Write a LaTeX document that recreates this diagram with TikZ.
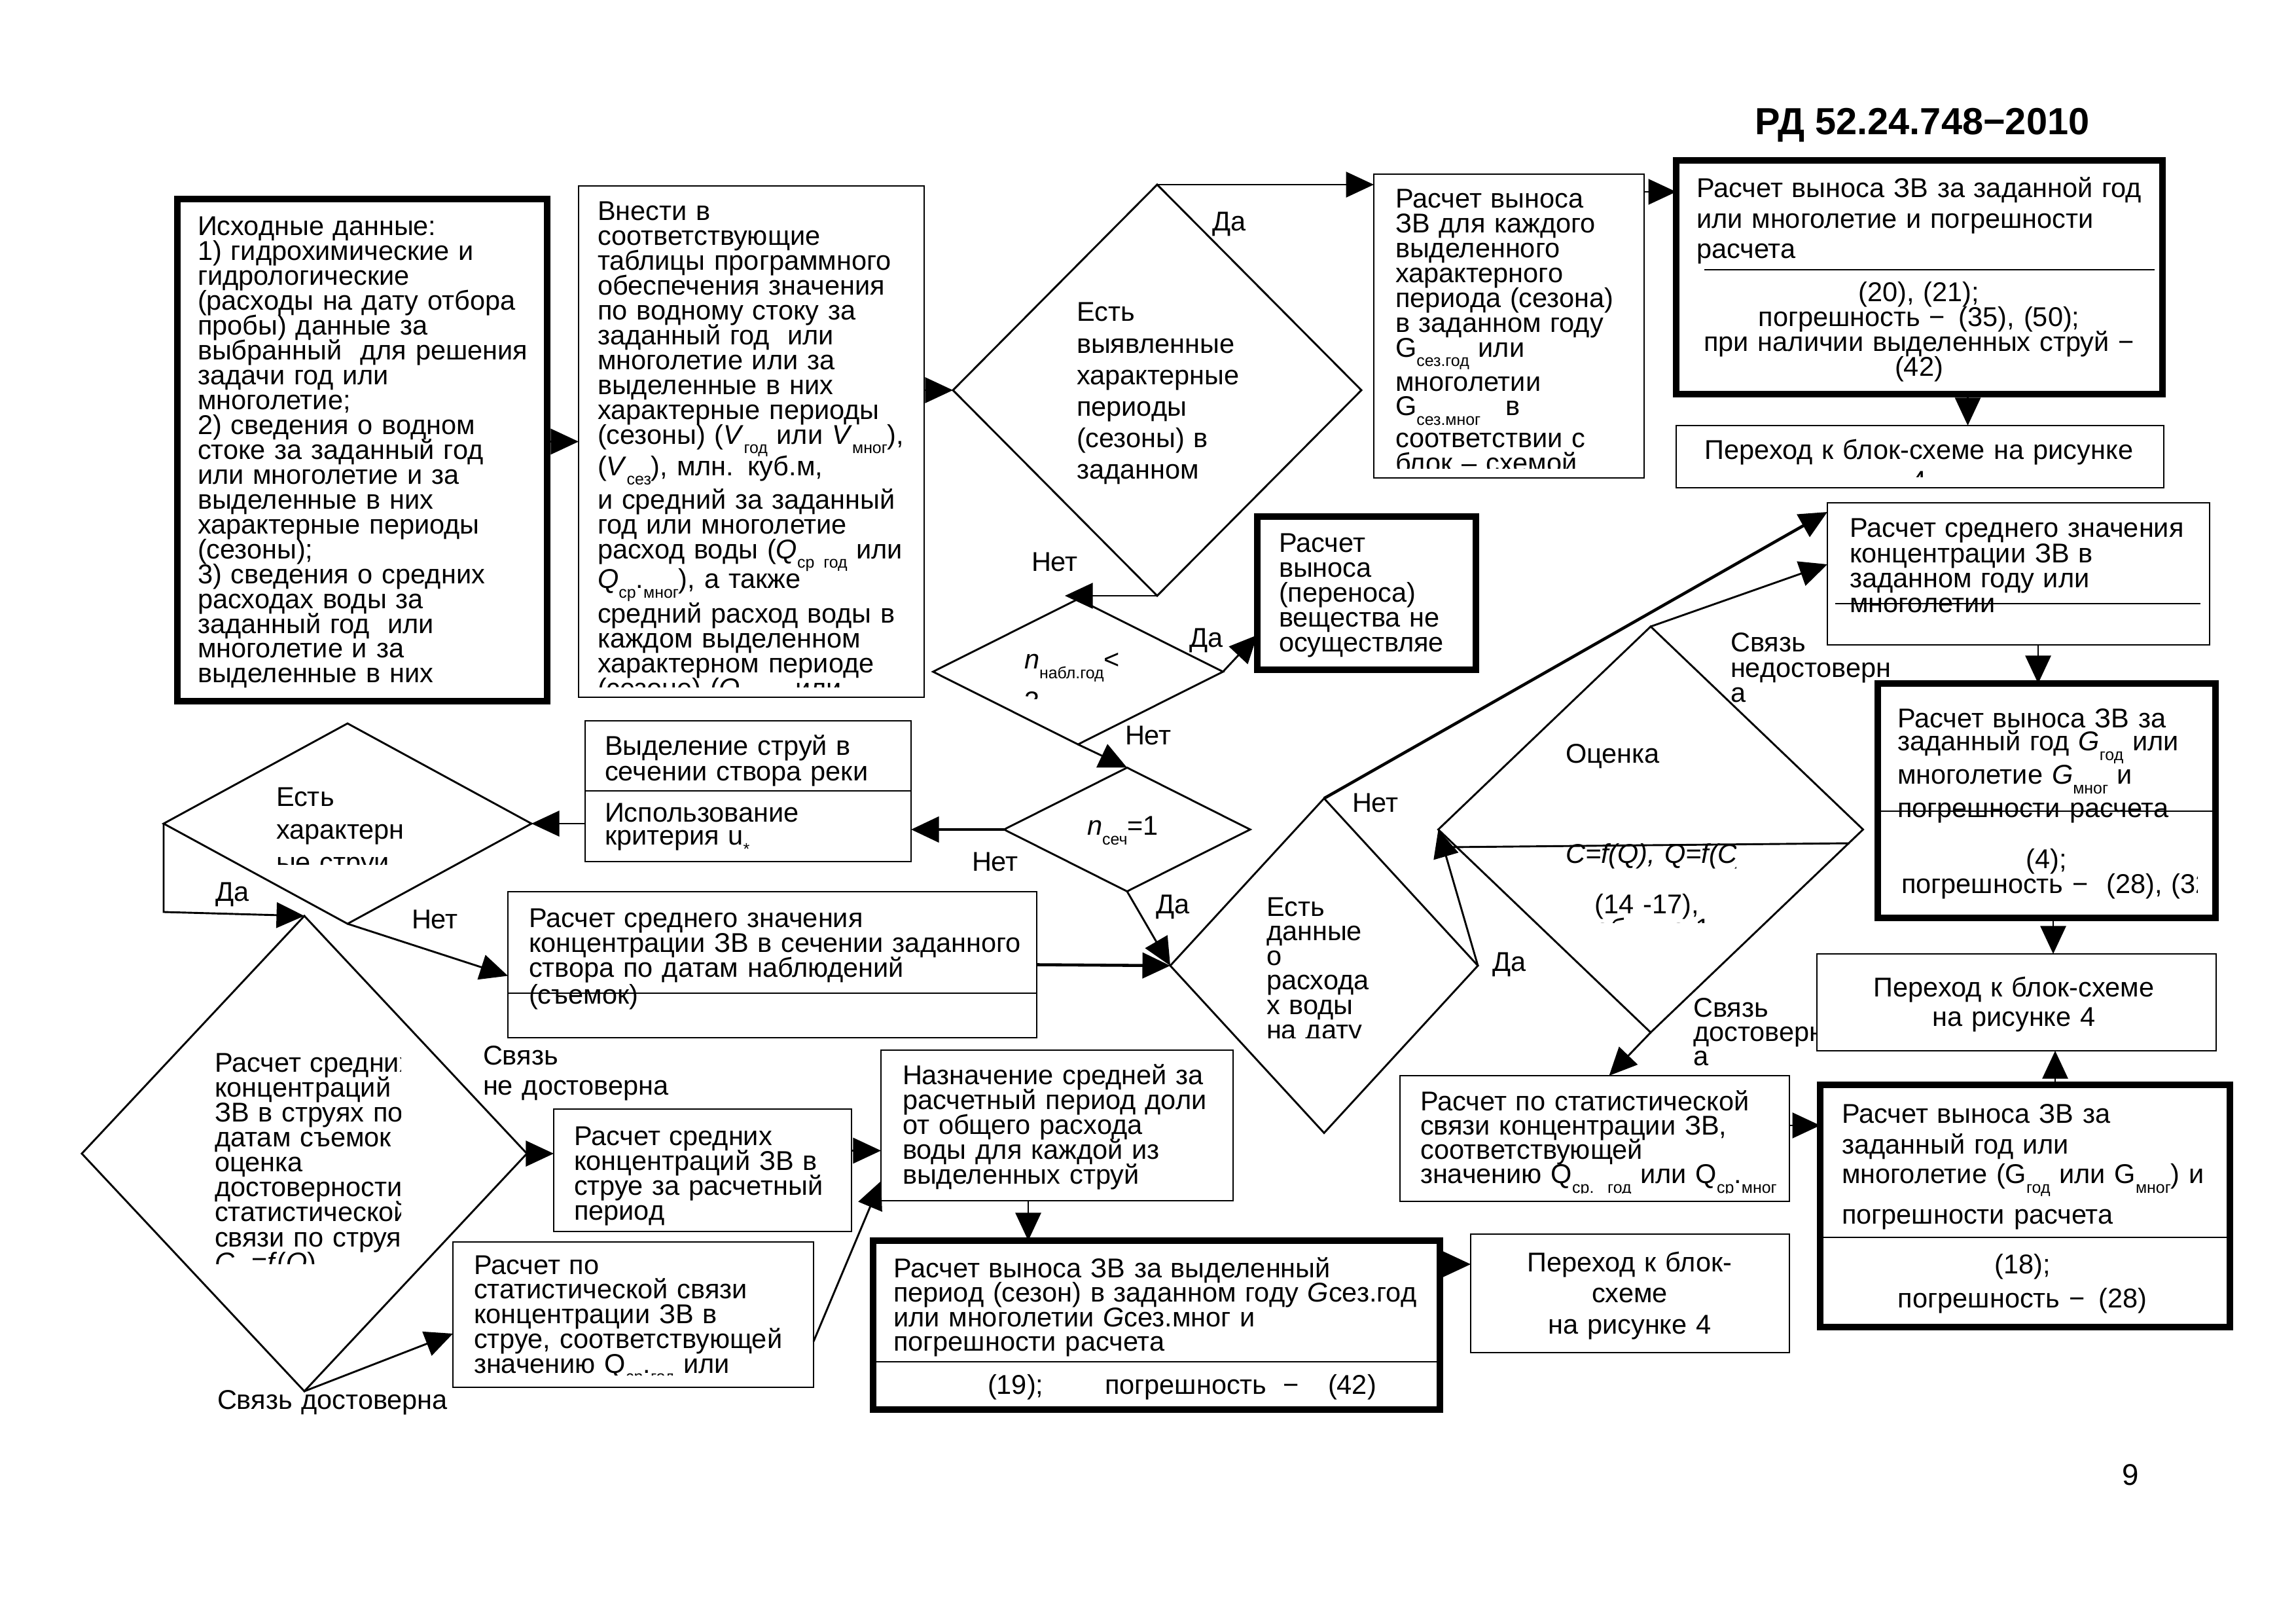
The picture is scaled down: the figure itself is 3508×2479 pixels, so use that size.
\documentclass[tikz,border=0pt]{standalone}
\usepackage{fontspec}
\setmainfont{Liberation Sans}
\usetikzlibrary{arrows.meta,shapes.geometric,calc,fit}
\newcommand\pxu{0.0846636mm}
\newcommand\lsub[1]{\raisebox{-3.5pt}{\fontsize{6}{6}\selectfont #1}}
\newcommand\tightlines{\lineskiplimit=-100pt\relax\lineskip=0pt\relax}
\tikzset{
  thinbox/.style={draw, line width=0.7pt, inner sep=0pt, outer sep=0pt},
  thickbox/.style={draw, line width=2.3pt, inner sep=0pt, outer sep=0pt},
  dia/.style={draw, diamond, line width=0.7pt, inner sep=0pt, outer sep=0pt},
  con/.style={line width=0.7pt, -{Triangle[length=3.6mm,width=3.3mm]}},
  conb/.style={con, line width=1.1pt},
  divl/.style={line width=0.7pt},
  btxt/.style={inner sep=0pt, outer sep=0pt, anchor=base west, text width=150mm, align=left,
    font={\fontsize{10}{#1}\selectfont}, execute at begin node={\tightlines}},
  ctxt/.style={inner sep=0pt, outer sep=0pt, anchor=base, text width=100mm, align=center,
    font={\fontsize{10}{#1}\selectfont}, execute at begin node={\tightlines}},
}
\begin{document}
\begin{tikzpicture}[x=\pxu, y=-\pxu]
\useasboundingbox (0,0) rectangle (3508,2479);

% ---------- boxes ----------
\node[thickbox, fit={(271,304) (836,1071)}] (A) {};
\node[thinbox, fit={(884,284) (1412,1065)}] (B) {};
\node[thinbox, fit={(2099,266) (2512,730)}] (C) {};
\node[thickbox, fit={(2561,245) (3304,602)}] (E) {};
\node[thinbox, fit={(2561,650) (3306,745)}] (F) {};
\node[thinbox, fit={(2792,768) (3376,985)}] (G) {};
\node[thickbox, fit={(2869,1044) (3385,1402)}] (H) {};
\node[thinbox, fit={(2776,1457) (3386,1605)}] (I) {};
\node[thickbox, fit={(2781,1657) (3407,2027)}] (J) {};
\node[thinbox, fit={(2139,1643) (2734,1835)}] (K) {};
\node[thickbox, fit={(1921,789) (2255,1023)}] (L) {};
\node[thinbox, fit={(894,1101) (1392,1316)}] (M) {};
\node[thinbox, fit={(776,1362) (1584,1585)}] (N) {};
\node[thinbox, fit={(846,1694) (1301,1881)}] (O) {};
\node[thinbox, fit={(692,1897) (1243,2119)}] (P) {};
\node[thinbox, fit={(1346,1604) (1884,1834)}] (Q) {};
\node[thickbox, fit={(1334,1895) (2200,2153)}] (R) {};
\node[thinbox, fit={(2247,1885) (2734,2066)}] (S) {};

% ---------- diamonds ----------
\node[dia, minimum width=624*\pxu, minimum height=628*\pxu] (D1) at (1768,596) {};
\node[dia, minimum width=443*\pxu, minimum height=222*\pxu] (Dn) at (1647,1026) {};
\node[dia, minimum width=376*\pxu, minimum height=189*\pxu] (Ds) at (1722,1267) {};
\node[dia, minimum width=562*\pxu, minimum height=306*\pxu] (Dstr) at (531,1258) {};
\node[dia, minimum width=680*\pxu, minimum height=726*\pxu] (Dras) at (465,1762) {};
\node[dia, minimum width=470*\pxu, minimum height=511*\pxu] (Dd) at (2023,1475) {};
\node[dia, minimum width=649*\pxu, minimum height=620*\pxu] (Dv) at (2522,1267) {};

% ---------- dividers ----------
\draw[divl] (2604,412) -- (3292,412);
\draw[divl] (2804,922) -- (3362,922);
\draw[divl] (2869,1239) -- (3385,1239);
\draw[divl] (2781,1890) -- (3407,1890);
\draw[divl] (894,1208) -- (1392,1208);
\draw[divl] (776,1517) -- (1584,1517);
\draw[divl] (1334,2080) -- (2200,2080);
\draw[divl] (2215,1294) -- (2826,1288);

% ---------- title & page ----------
\node[inner sep=0pt, anchor=base, font=\fontsize{13.9}{14}\selectfont\bfseries] (title) at (2937,206) {РД 52.24.748−2010};
\node[inner sep=0pt, anchor=base, font=\fontsize{11}{12}\selectfont] (pnum) at (3255,2268) {9};

% ---------- box texts ----------
\node[btxt=9.14] (tA) at (302,360) {Исходные данные:\\1) гидрохимические и\\гидрологические\\(расходы на дату отбора\\пробы) данные за\\выбранный\ \ для решения\\задачи год или\\многолетие;\\2) сведения о водном\\стоке за заданный год\\или многолетие и за\\выделенные в них\\характерные периоды\\(сезоны);\\3) сведения о средних\\расходах воды за\\заданный год\ \ или\\многолетие и за\\выделенные в них};

\begin{scope}
\clip (884,284) rectangle (1412,1050);
\node[btxt=9.14] (tB) at (913,337) {Внести в\\соответствующие\\таблицы программного\\обеспечения значения\\по водному стоку за\\заданный год\ \ или\\многолетие или за\\выделенные в них\\характерные периоды\\(сезоны) (\textit{V}\lsub{год} или \textit{V}\lsub{мног}),\\[2.4pt](\textit{V}\lsub{сез}), млн. куб.м,\\[3.1pt]и средний за заданный\\год или многолетие\\расход воды (\textit{Q}\lsub{ср год} или\\[1.9pt]\textit{Q}\lsub{ср}.\lsub{мног}), а также\\[3.6pt]средний расход воды в\\каждом выделенном\\характерном периоде\\(сезоне) (\textit{Q}\lsub{ср.сез} или};
\end{scope}

\begin{scope}
\clip (2099,266) rectangle (2512,716);
\node[btxt=9.12] (tC) at (2132,318) {Расчет выноса\\ЗВ для каждого\\выделенного\\характерного\\периода (сезона)\\в заданном году\\G\lsub{сез.год} или\\[3.4pt]многолетии\\G\lsub{сез.мног}\hspace{6pt} в\\[2.6pt]соответствии с\\блок – схемой};
\end{scope}

\node[btxt=11.1] (tE1) at (2592,302) {Расчет выноса ЗВ за заданной год\\или многолетие и погрешности\\расчета};
\node[ctxt=9.12] (tE2) at (2932,461) {(20), (21);\\погрешность − \,(35), (50);\\при наличии выделенных струй −\\(42)};

\begin{scope}
\clip (2561,650) rectangle (3306,729);
\node[ctxt=11.3] (tF) at (2932,702) {Переход к блок-схеме на рисунке\\4};
\end{scope}

\node[btxt=9.17] (tG) at (2826,821) {Расчет среднего значения\\концентрации ЗВ в\\заданном году или\\многолетии};

\node[btxt=8.4] (tH1) at (2899,1112) {Расчет выноса ЗВ за\\заданный год \textit{G}\lsub{год} или\\[3.8pt]многолетие \textit{G}\lsub{мног} и\\[3.8pt]погрешности расчета};
\node[ctxt=9] (tH2) at (3127,1326) {(4);};
\begin{scope}
\clip (2869,1239) rectangle (3357,1402);
\node[btxt=9] (tH3) at (2905,1364) {погрешность −\ \ (28), (32)};
\end{scope}

\node[ctxt=11] (tI) at (3077,1522) {Переход к блок-схеме\\на рисунке 4};

\node[btxt=11.5] (tJ1) at (2814,1715) {Расчет выноса ЗВ за\\заданный год или\\[-0.7pt]многолетие (G\lsub{год} или G\lsub{мног}) и\\[3.4pt]погрешности расчета};
\node[ctxt=12.7] (tJ2) at (3090,1945) {(18);\\погрешность − \,(28)};

\begin{scope}
\clip (2139,1643) rectangle (2734,1822);
\node[btxt=8.98] (tK) at (2170,1696) {Расчет по статистической\\связи концентрации ЗВ,\\соответствующей\\значению Q\lsub{ср. год} или Q\lsub{ср}.\lsub{мног}};
\end{scope}

\node[btxt=9.11] (tL) at (1954,844) {Расчет\\выноса\\(переноса)\\вещества не\\осуществляе};

\node[btxt=9.19] (tM1) at (924,1154) {Выделение струй в\\сечении створа реки};
\node[btxt=8.4] (tM2) at (924,1256) {Использование\\критерия u\lsub{*}};

\node[btxt=9.2] (tN) at (808,1416) {Расчет среднего значения\\концентрации ЗВ в сечении заданного\\створа по датам наблюдений\\[0.8pt](съемок)};

\node[btxt=9.19] (tO) at (877,1749) {Расчет средних\\концентраций ЗВ в\\струе за расчетный\\период};

\begin{scope}
\clip (692,1897) rectangle (1243,2100);
\node[btxt=9.12] (tP) at (724,1946) {Расчет по\\статистической связи\\концентрации ЗВ в\\струе, соответствующей\\значению Q\lsub{ср}.\lsub{год} или};
\end{scope}

\node[btxt=9.19] (tQ) at (1379,1656) {Назначение средней за\\расчетный период доли\\от общего расхода\\воды для каждой из\\выделенных струй};

\node[btxt=9.05] (tR1) at (1365,1951) {Расчет выноса ЗВ за выделенный\\период (сезон) в заданном году \textit{G}сез.год\\или многолетии \textit{G}сез.мног и\\погрешности расчета};
\node[btxt=9.14] (tR2) at (1509,2129) {(19);};
\node[btxt=9.14] (tR3) at (1688,2129) {погрешность};
\node[btxt=9.14] (tR4) at (1960,2129) {−};
\node[btxt=9.14] (tR5) at (2029,2129) {(42)};

\node[ctxt=11.5] (tS) at (2490,1942) {Переход к блок-\\схеме\\на рисунке 4};

% ---------- diamond texts ----------
\node[btxt=11.6] (tD1) at (1645,491) {Есть\\выявленные\\характерные\\периоды\\(сезоны) в\\заданном};

\begin{scope}
\clip (1425,915) rectangle (1868,1068);
\node[btxt=15.4] (tDn) at (1565,1022) {\textit{n}\lsub{набл.год}<\\3};
\end{scope}

\node[btxt=9.14] (tDs) at (1661,1276) {\textit{n}\lsub{сеч}=1};

\begin{scope}
\clip (250,1105) rectangle (812,1320);
\node[btxt=11.95] (tDstr) at (422,1232) {Есть\\характерн\\ые струи};
\end{scope}

\begin{scope}
\clip (1788,1219) rectangle (2258,1585);
\node[btxt=9.07] (tDd) at (1935,1399) {Есть\\данные\\о\\расхода\\х воды\\на дату};
\end{scope}

\begin{scope}
\clip (123,1399) rectangle (612,1930);
\node[btxt=9.19] (tDr) at (328,1637) {Расчет средних\\концентраций\\ЗВ в струях по\\датам съемок и\\оценка\\достоверности\\статистической\\связи по струям\\\textit{C}\lsub{ср}=\textit{f}(\textit{Q})};
\end{scope}

\node[btxt=9.14] (tDv1) at (2392,1166) {Оценка};
\begin{scope}
\clip (2198,957) rectangle (2652,1409);
\node[btxt=9.14] (tDv2) at (2392,1318) {\textit{C=f(Q), Q=f(C)}};
\node[ctxt=9.12] (tDv3) at (2516,1395) {(14 -17),\\таблица 1};
\end{scope}

% ---------- labels ----------
\node[btxt=9.14] (lDa1) at (1852,353) {Да};
\node[btxt=9.14] (lNet1) at (1576,873) {Нет};
\node[btxt=9.14] (lDa2) at (1817,989) {Да};
\node[btxt=9.14] (lNet2) at (1719,1138) {Нет};
\node[btxt=9.14] (lNet3) at (1485,1330) {Нет};
\node[btxt=9.14] (lDa3) at (1766,1395) {Да};
\node[btxt=9.14] (lNet4) at (2066,1241) {Нет};
\node[btxt=9.14] (lDa4) at (2280,1483) {Да};
\node[btxt=9.24] (lSv1) at (2644,996) {Связь\\недостоверн\\а};
\begin{scope}
\clip (2500,1450) rectangle (2774,1700);
\node[btxt=8.95] (lSv2) at (2587,1553) {Связь\\достоверн\\а};
\end{scope}
\node[btxt=9.14] (lDa5) at (329,1376) {Да};
\node[btxt=9.14] (lNet5) at (629,1418) {Нет};
\node[btxt=11.3] (lSv3) at (738,1626) {Связь\\не достоверна};
\node[btxt=9.14] (lSv4) at (332,2152) {Связь достоверна};

% ---------- connectors ----------
\draw[con] (A.east |- B.west) -- (B.west);
\draw[con] (B.east |- D1.west) -- (D1.west);
\draw[con] (D1.north) -- (D1.north -| C.west);
\draw[con] ($(C.north east)+(0,27)$) coordinate (ce) -- (ce -| E.west);
\draw[con] ($(E.south)+(74,0)$) coordinate (ef) -- (ef |- F.north);
\coordinate (nabTip) at (1627,910);
\draw[con] (D1.south) -- (nabTip);
\draw[con] (Dn.east) -- ($(L.west)+(0,64)$);
\draw[con] (Dn.south) -- (Ds.north);
\draw[conb] (Ds.west) -- (Ds.west -| M.east);
\draw[con] (M.west |- Dstr.east) -- (Dstr.east);
\coordinate (strCorner) at (250,1393);
\draw[con] (Dstr.west) -- (strCorner) -- (Dras.north);
\draw[con] (Dstr.south) -- ($(N.west)+(0,17)$);
\draw[conb] (N.east) -- (Dd.west);
\draw[con] (Ds.south) -- (Dd.west);
\draw[conb] (Dd.north) -- ($(G.north west)+(0,14)$);
\draw[con] (Dd.east) -- (Dv.west);
\draw[con] (Dv.north) -- ($(G.north west)+(0,94)$);
\draw[con] (Dv.south) -- ($(K.north)+(22,0)$);
\draw[con] ($(G.south)+(30,0)$) coordinate (gh) -- (gh |- H.north);
\draw[con] ($(H.south)+(10,0)$) coordinate (hi) -- (hi |- I.north);
\draw[con] ($(J.north)+(46,0)$) coordinate (ji) -- (ji |- I.south);
\draw[con] ($(K.east)+(0,-20)$) coordinate (kj) -- (kj -| J.west);
\draw[con] (Dras.east) -- (Dras.east -| O.west);
\draw[con] (Dras.south) -- ($(P.west)+(0,29)$);
\draw[con] ($(O.east)+(0,-30)$) coordinate (oq) -- (oq -| Q.west);
\draw[con] ($(P.east)+(0,41)$) -- ($(Q.west)+(0,85)$);
\draw[con] ($(Q.south)+(-44,0)$) coordinate (qr) -- (qr |- R.north);
\draw[con] ($(R.east)+(0,-93)$) coordinate (rs) -- (rs -| S.west);
\end{tikzpicture}
\end{document}
